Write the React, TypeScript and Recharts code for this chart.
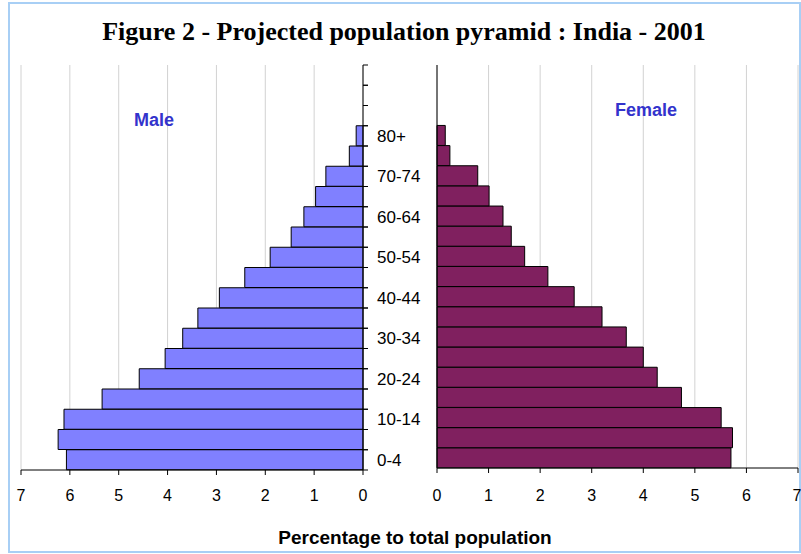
import React from "react";
import { Bar, BarChart, CartesianGrid, XAxis, YAxis } from "recharts";

const AGES = [
  "0-4", "5-9", "10-14", "15-19", "20-24", "25-29", "30-34", "35-39", "40-44", "45-49",
  "50-54", "55-59", "60-64", "65-69", "70-74", "75-79", "80+", "85-89", "90-94", "95+",
];
const AGE_LABELS = ["0-4", "10-14", "20-24", "30-34", "40-44", "50-54", "60-64", "70-74", "80+"];

const MALE = [6.07, 6.24, 6.12, 5.34, 4.58, 4.05, 3.69, 3.38, 2.94, 2.42, 1.9, 1.47, 1.21, 0.97, 0.76, 0.28, 0.14, null, null, null];
const FEMALE = [5.7, 5.73, 5.51, 4.74, 4.27, 4.0, 3.67, 3.2, 2.66, 2.15, 1.7, 1.44, 1.28, 1.01, 0.79, 0.25, 0.16, null, null, null];

const PCT_TICKS = [0, 1, 2, 3, 4, 5, 6, 7];

const rows = AGES.map((age, i) => ({ age, male: MALE[i], female: FEMALE[i] }));

const SANS = "'Liberation Sans', Arial, sans-serif";
const GRID = "#d2d2d2";
const BORDER = "#a0a0a0";

function AgeTick(props: any) {
  const { x, y, payload } = props;
  const off = payload.offset ?? 405 / AGES.length / 2;
  const ax = x - 14;
  return (
    <g>
      <line x1={ax} x2={ax + 5} y1={y - off} y2={y - off} stroke="#000" />
      <line x1={ax} x2={ax + 5} y1={y + off} y2={y + off} stroke="#000" />
      {AGE_LABELS.includes(payload.value) && (
        <text x={x} y={y} dy="0.355em" textAnchor="start" fontSize={17} fontFamily={SANS} fill="#000">
          {payload.value}
        </text>
      )}
    </g>
  );
}

const tickStyle = { fontSize: 16, fontFamily: SANS, fill: "#000" };

export default function App() {
  return (
    <div style={{ position: "absolute", left: 0, top: 0, width: 801, height: 554, background: "#fff" }}>
      <div
        style={{
          position: "absolute", left: 8, top: 2, width: 789, height: 547,
          border: "2px solid #a8cff5",
        }}
      />
      <div
        style={{
          position: "absolute", left: 0, top: 17, width: 808, textAlign: "center",
          fontFamily: "'Liberation Serif', 'Times New Roman', serif", fontWeight: "bold", fontSize: 26, color: "#000",
        }}
      >
        Figure 2 - Projected population pyramid : India - 2001
      </div>

      <div style={{ position: "absolute", left: 0, top: 0 }}>
        <BarChart
          width={440}
          height={554}
          data={rows}
          layout="vertical"
          barCategoryGap={0}
          margin={{ top: 65, right: 3, bottom: 54, left: 21 }}
        >
          <CartesianGrid horizontal={false} stroke={GRID} />
          <XAxis
            type="number"
            domain={[0, 7]}
            ticks={PCT_TICKS}
            reversed
            height={30}
            tickSize={5}
            tickMargin={15}
            axisLine={{ stroke: "#000" }}
            tickLine={{ stroke: "#000" }}
            tick={tickStyle}
          />
          <XAxis xAxisId="top" type="number" domain={[0, 7]} reversed orientation="top" height={0} tick={false} tickLine={false} axisLine={{ stroke: BORDER }} />
          <YAxis
            type="category"
            dataKey="age"
            reversed
            orientation="right"
            width={74}
            interval={0}
            tickSize={5}
            tickMargin={9}
            tickLine={false}
            axisLine={{ stroke: "#000" }}
            tick={<AgeTick />}
          />
          <YAxis yAxisId="edge" type="category" dataKey="age" reversed orientation="left" width={0} tick={false} tickLine={false} axisLine={{ stroke: BORDER }} />
          <Bar dataKey="male" fill="#8080ff" stroke="#000" strokeWidth={1} isAnimationActive={false} />
        </BarChart>
      </div>

      <div style={{ position: "absolute", left: 400, top: 0 }}>
        <BarChart
          width={401}
          height={554}
          data={rows}
          layout="vertical"
          barCategoryGap={0}
          margin={{ top: 65, right: 3, bottom: 56, left: 0 }}
        >
          <CartesianGrid horizontal={false} stroke={GRID} />
          <XAxis
            type="number"
            domain={[0, 7]}
            ticks={PCT_TICKS}
            height={30}
            tickSize={5}
            tickMargin={17}
            axisLine={{ stroke: "#000" }}
            tickLine={{ stroke: "#000" }}
            tick={tickStyle}
          />
          <XAxis xAxisId="top" type="number" domain={[0, 7]} orientation="top" height={0} tick={false} tickLine={false} axisLine={{ stroke: BORDER }} />
          <YAxis
            type="category"
            dataKey="age"
            reversed
            width={37}
            interval={0}
            tick={false}
            tickLine={false}
            axisLine={{ stroke: "#000" }}
          />
          <YAxis yAxisId="edge" type="category" dataKey="age" reversed orientation="right" width={0} tick={false} tickLine={false} axisLine={{ stroke: BORDER }} />
          <Bar dataKey="female" fill="#80205f" stroke="#000" strokeWidth={1} isAnimationActive={false} />
        </BarChart>
      </div>

      <div style={{ position: "absolute", left: 134, top: 110, fontFamily: SANS, fontWeight: "bold", fontSize: 18, color: "#3333cc" }}>
        Male
      </div>
      <div style={{ position: "absolute", left: 615, top: 100, fontFamily: SANS, fontWeight: "bold", fontSize: 18, color: "#3333cc" }}>
        Female
      </div>
      <div
        style={{
          position: "absolute", left: 215, top: 527, width: 400, textAlign: "center",
          fontFamily: SANS, fontWeight: "bold", fontSize: 19, color: "#000",
        }}
      >
        Percentage to total population
      </div>
    </div>
  );
}
